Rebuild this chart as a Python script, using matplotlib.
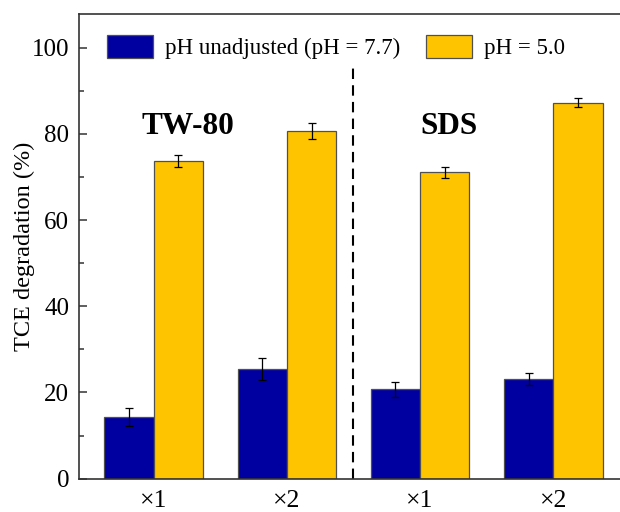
import matplotlib
matplotlib.use("Agg")
import matplotlib.pyplot as plt
import numpy as np

plt.rcParams['font.family'] = ['Liberation Serif', 'DejaVu Serif']

groups = ["×1", "×2", "×1", "×2"]
unadjusted = [14.4, 25.4, 20.7, 23.1]
unadjusted_err = [2.1, 2.5, 1.7, 1.4]
ph5 = [73.6, 80.7, 71.1, 87.2]
ph5_err = [1.4, 1.9, 1.3, 1.0]
labels = ["pH unadjusted (pH = 7.7)", "pH = 5.0"]
annotations = ["TW-80", "SDS"]

fig = plt.figure(figsize=(6.2, 5.12), dpi=100)
ax = fig.add_axes([79/620, 1-478.7/512, 1-79/620, (478.7-14)/512])

x = np.arange(len(groups))
w = 0.37
ax.bar(x - w/2, unadjusted, w, color='#0000A0', edgecolor='#505050', linewidth=0.9,
       yerr=unadjusted_err, error_kw=dict(ecolor='black', elinewidth=0.9, capsize=2.6, capthick=0.9),
       label=labels[0], zorder=2)
ax.bar(x + w/2, ph5, w, color='#FFC400', edgecolor='#505050', linewidth=0.9,
       yerr=ph5_err, error_kw=dict(ecolor='black', elinewidth=0.9, capsize=2.6, capthick=0.9),
       label=labels[1], zorder=2)

ax.plot([1.5, 1.5], [0, 96.4], color='black', linestyle=(0, (5, 3)), linewidth=1.5, zorder=1)

ax.text(0.257, 81.8, annotations[0], ha='center', va='center', fontsize=22.5, fontweight='bold')
ax.text(2.22, 81.8, annotations[1], ha='center', va='center', fontsize=22.5, fontweight='bold')

ax.set_xlim(-0.56, 3.5)
ax.set_ylim(0, 107.8)
ax.set_xticks(x)
ax.set_xticklabels(groups, fontsize=18.5)
ax.set_yticks([0, 20, 40, 60, 80, 100])
ax.set_yticks([10, 30, 50, 70, 90], minor=True)
ax.tick_params(axis='y', which='major', direction='in', length=6, width=1.1, labelsize=18, pad=7, color='#333333')
ax.tick_params(axis='y', which='minor', direction='in', length=3.5, width=1.1, color='#333333')
ax.tick_params(axis='x', length=0, pad=8)
ax.set_ylabel("TCE degradation (%)", fontsize=17.5, labelpad=-2)

for s in ['left', 'bottom', 'top']:
    ax.spines[s].set_linewidth(1.2)
    ax.spines[s].set_color('#333333')
ax.spines['right'].set_visible(False)

leg = ax.legend(loc='upper left', bbox_to_anchor=(107/620, 1-35/512), bbox_transform=fig.transFigure,
                ncol=2, frameon=False, fontsize=16.5, handlelength=2.0, handleheight=1.2,
                handletextpad=0.55, columnspacing=1.1, borderpad=0, borderaxespad=0)

fig.savefig("out.png", dpi=100)
